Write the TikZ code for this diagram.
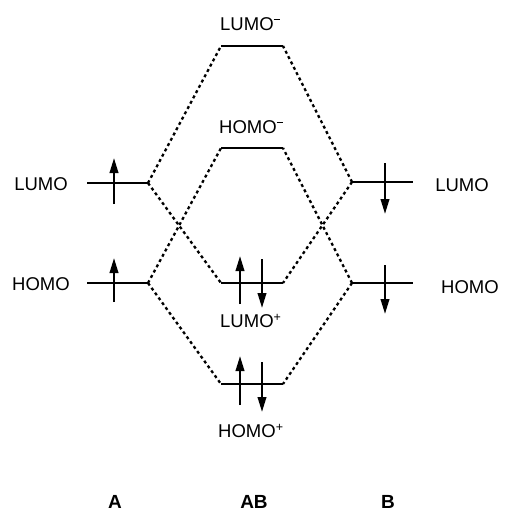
\documentclass[tikz,border=0pt]{standalone}
\usepackage{fontspec}
\setmainfont{Liberation Sans}
\usetikzlibrary{arrows.meta}
\newcommand{\supp}{\raisebox{0.62ex}{\fontsize{12.5}{12}\selectfont +}}
\newcommand{\supm}{\raisebox{1.05ex}{\fontsize{12}{12}\selectfont\rule{6.5pt}{1.4pt}}}
\begin{document}
\begin{tikzpicture}[x=1pt,y=-1pt,
  level/.style={line width=2.4pt},
  conn/.style={line width=2.3pt,dash pattern=on 3pt off 3pt},
  spin/.style={line width=2.2pt,-{Triangle[length=15pt,width=8.5pt]}},
  lbl/.style={font=\fontsize{18.5}{22}\selectfont,inner sep=0pt},
  ttl/.style={font=\fontsize{19}{22}\selectfont\bfseries,inner sep=0pt}]
\useasboundingbox (0,0) rectangle (505,514);
% coordinates of levels
\coordinate (aLl) at (87,183);  \coordinate (aLr) at (148,183);
\coordinate (aHl) at (87,283);  \coordinate (aHr) at (148,283);
\coordinate (bLl) at (352,182); \coordinate (bLr) at (413,182);
\coordinate (bHl) at (352,283); \coordinate (bHr) at (413,283);
\coordinate (cLml) at (221,46);  \coordinate (cLmr) at (283,46);
\coordinate (cHml) at (221,148); \coordinate (cHmr) at (283,148);
\coordinate (cLpl) at (221,283); \coordinate (cLpr) at (283,283);
\coordinate (cHpl) at (221,384); \coordinate (cHpr) at (283,384);
% levels
\draw[level] (aLl) -- (aLr);
\draw[level] (aHl) -- (aHr);
\draw[level] (bLl) -- (bLr);
\draw[level] (bHl) -- (bHr);
\draw[level] (cLml) -- (cLmr);
\draw[level] (cHml) -- (cHmr);
\draw[level] (cLpl) -- (cLpr);
\draw[level] (cHpl) -- (cHpr);
% connectors
\draw[conn] (aLr) -- (cLml);
\draw[conn] (aLr) -- (cLpl);
\draw[conn] (aHr) -- (cHml);
\draw[conn] (aHr) -- (cHpl);
\draw[conn] (bLl) -- (cLmr);
\draw[conn] (bLl) -- (cLpr);
\draw[conn] (bHl) -- (cHmr);
\draw[conn] (bHl) -- (cHpr);
% spins
\coordinate (s1a) at (114,204); \coordinate (s1b) at (114,158);
\coordinate (s2a) at (114,302); \coordinate (s2b) at (114,258);
\coordinate (s3a) at (385,163); \coordinate (s3b) at (385,214);
\coordinate (s4a) at (385,265); \coordinate (s4b) at (385,314);
\coordinate (s5a) at (240,304); \coordinate (s5b) at (240,256);
\coordinate (s6a) at (262,259); \coordinate (s6b) at (262,308);
\coordinate (s7a) at (240,405); \coordinate (s7b) at (240,356);
\coordinate (s8a) at (262,362); \coordinate (s8b) at (262,412);
\draw[spin] (s1a) -- (s1b);
\draw[spin] (s2a) -- (s2b);
\draw[spin] (s3a) -- (s3b);
\draw[spin] (s4a) -- (s4b);
\draw[spin] (s5a) -- (s5b);
\draw[spin] (s6a) -- (s6b);
\draw[spin] (s7a) -- (s7b);
\draw[spin] (s8a) -- (s8b);
% labels
\node[lbl] (tALumo) at (41,184) {LUMO};
\node[lbl] (tAHomo) at (41,284) {HOMO};
\node[lbl] (tBLumo) at (462,185) {LUMO};
\node[lbl] (tBHomo) at (470,287) {HOMO};
\node[lbl,anchor=west] (tLm) at (220,24) {LUMO\supm};
\node[lbl,anchor=west] (tHm) at (219,127) {HOMO\supm};
\node[lbl,anchor=west] (tLp) at (220,321) {LUMO\supp};
\node[lbl,anchor=west] (tHp) at (218,431) {HOMO\supp};
\node[ttl] (tA) at (115,502) {A};
\node[ttl] (tAB) at (254,502) {AB};
\node[ttl] (tB) at (388,502) {B};
\end{tikzpicture}
\end{document}
